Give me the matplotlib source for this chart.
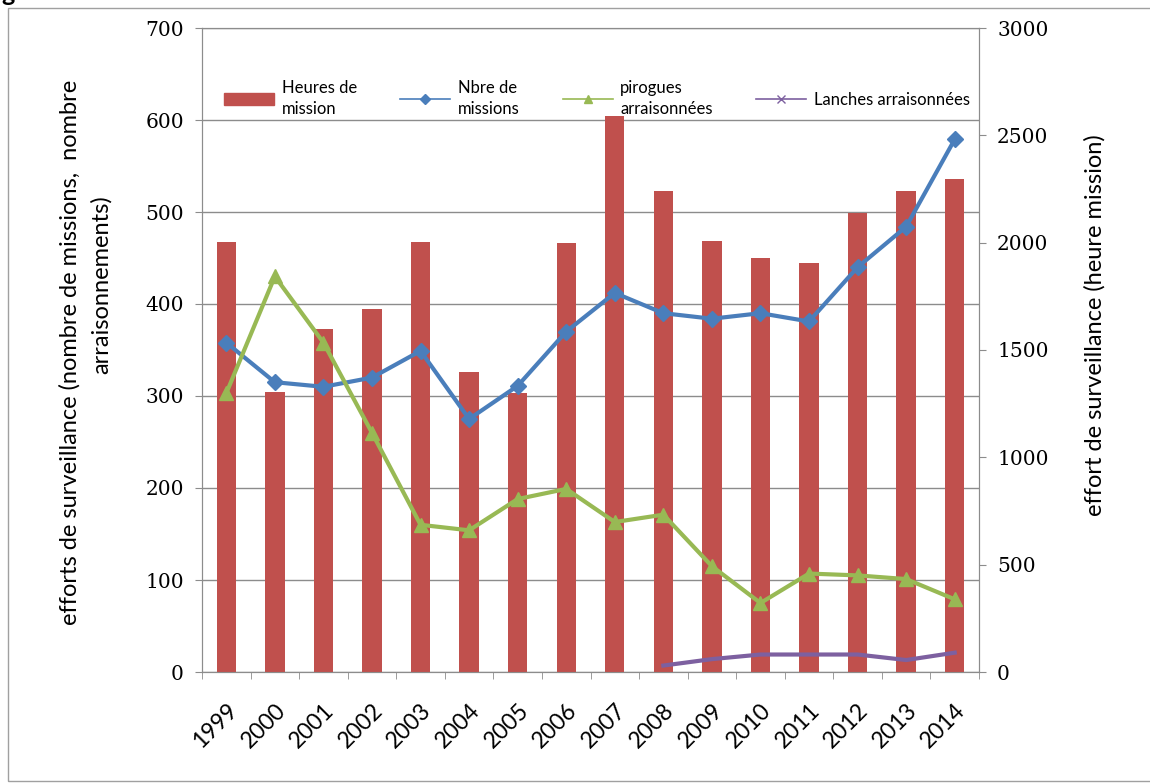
import matplotlib
matplotlib.use("Agg")
import matplotlib.pyplot as plt
import matplotlib.patches as mpatches
from matplotlib.lines import Line2D
import numpy as np

# data
years = ['1999', '2000', '2001', '2002', '2003', '2004', '2005', '2006',
         '2007', '2008', '2009', '2010', '2011', '2012', '2013', '2014']
heures_mission = [2005, 1303, 1599, 1693, 2001, 1397, 1300, 2000,
                  2590, 2241, 2010, 1930, 1905, 2140, 2241, 2297]
nbre_missions = [358, 315, 310, 320, 349, 275, 311, 370,
                 412, 390, 384, 390, 381, 440, 484, 579]
pirogues = [303, 430, 358, 260, 160, 154, 188, 199,
            163, 171, 115, 75, 107, 105, 101, 79]
lanches_years = ['2008', '2009', '2010', '2011', '2012', '2013', '2014']
lanches = [7, 14, 19, 19, 19, 13, 21]

RED = '#C0504D'
BLUE = '#4A7EBB'
GREEN = '#98B954'
PURPLE = '#7D60A0'
GRID = '#8C8C8C'
SANS = ['Lato', 'DejaVu Sans']
SERIF = 'DejaVu Serif'

W, H = 1150, 784
fig = plt.figure(figsize=(W / 100, H / 100), dpi=100)

# outer frame
fig.patches.append(mpatches.Rectangle((8 / W, 3 / H), 1.2, 1 - 11 / H, transform=fig.transFigure,
                                      fill=False, edgecolor='#A0A0A0', lw=1))
fig.text(1 / W, 1 - 1 / H, 'g', fontsize=18, fontweight='bold', family=SANS, va='baseline')

x = np.arange(len(years))
xl = [years.index(y) for y in lanches_years]

ax = fig.add_axes([202 / W, 1 - 672 / H, 777 / W, 644 / H])
axr = ax.twinx()
axl = ax.twinx()

# left axis: grid and ticks
ax.set_ylim(0, 700)
ax.set_yticks(np.arange(0, 701, 100))
ax.yaxis.grid(True, color=GRID, lw=1)
ax.set_axisbelow(True)
ax.set_xlim(-0.5, len(years) - 0.5)
ax.set_xticks(x)
ax.set_xticklabels(years, rotation=45, ha='right', rotation_mode='anchor',
                   family=SANS, fontsize=16.5)
ax.set_xticks(np.arange(-0.5, len(years), 1), minor=True)
ax.tick_params(axis='x', which='major', length=0, pad=20)
ax.tick_params(axis='x', which='minor', length=5, color=GRID)
ax.tick_params(axis='y', length=5, color=GRID, pad=8)
for lab in ax.get_yticklabels():
    lab.set_family(SERIF)
    lab.set_fontsize(14.5)

# right axis: bars
axr.bar(x, heures_mission, width=0.4, color=RED, zorder=2)
axr.set_ylim(0, 3000)
axr.set_yticks(np.arange(0, 3001, 500))
axr.tick_params(axis='y', length=5, color=GRID, pad=8)
for lab in axr.get_yticklabels():
    lab.set_family(SERIF)
    lab.set_fontsize(14.5)

# lines on top
axl.set_ylim(0, 700)
axl.yaxis.set_visible(False)
axl.plot(x, nbre_missions, color=BLUE, lw=3, marker='D', ms=8)
axl.plot(x, pirogues, color=GREEN, lw=3, marker='^', ms=10)
axl.plot(xl, lanches, color=PURPLE, lw=3)

for a in (ax, axr, axl):
    for s in a.spines.values():
        s.set_color(GRID)
for s in axl.spines.values():
    s.set_visible(False)

handles = [mpatches.Patch(color=RED),
           Line2D([], [], color=BLUE, lw=1.2, marker='D', ms=5),
           Line2D([], [], color=GREEN, lw=1.2, marker='^', ms=6),
           Line2D([], [], color=PURPLE, lw=1.2, marker='x', ms=6)]
labels = ['Heures de\nmission', 'Nbre de\nmissions', 'pirogues\narraisonnées',
          'Lanches arraisonnées']
leg = fig.legend(handles, labels, loc='upper left', bbox_to_anchor=(224 / W, 1 - 80 / H),
                 ncol=4, frameon=False, prop={'family': SANS, 'size': 12},
                 handlelength=3.0, handletextpad=0.45, columnspacing=2.6,
                 labelspacing=0.3, borderaxespad=0, borderpad=0)
for t in leg.get_texts():
    t.set_linespacing(1.35)

fig.text(70 / W, 1 - 352 / H, 'efforts de surveillance (nombre de missions,  nombre',
         rotation=90, ha='center', va='center', family=SANS, fontsize=17)
fig.text(101 / W, 1 - 285 / H, 'arraisonnements)',
         rotation=90, ha='center', va='center', family=SANS, fontsize=17)
fig.text(1095 / W, 1 - 325 / H, 'effort de surveillance (heure mission)',
         rotation=90, ha='center', va='center', family=SANS, fontsize=17)

fig.savefig('out.png', dpi=100)
